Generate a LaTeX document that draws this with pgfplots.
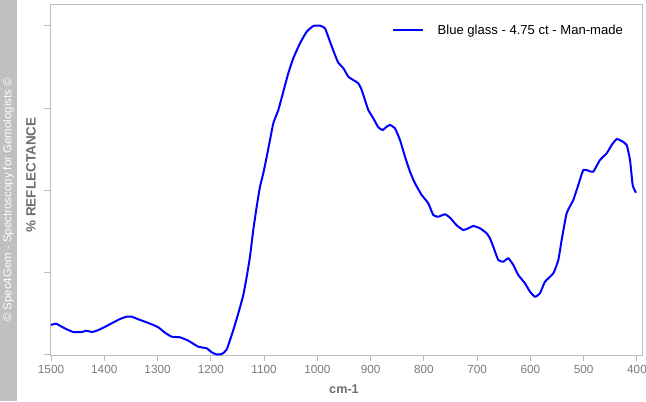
\documentclass[border=0pt]{standalone}
\usepackage{pgfplots}
\pgfplotsset{compat=1.18}
\usepackage{fontspec}
\setmainfont{Liberation Sans}
\definecolor{sidebar}{RGB}{192,192,192}
\definecolor{ticklab}{RGB}{120,120,128}
\definecolor{labgray}{RGB}{110,110,110}
\definecolor{axgray}{RGB}{190,190,190}
\begin{document}
\begin{tikzpicture}
\useasboundingbox (0pt,0pt) rectangle (484.5pt,300.75pt);
\fill[sidebar] (0pt,0pt) rectangle (12.75pt,300.75pt);
\node[rotate=90, text=white, font=\fontsize{8.6}{10}\selectfont, inner sep=0pt] at (6.4pt,150.75pt) {© Spec4Gem - Spectroscopy for Gemologists ©};
\node[rotate=90, text=labgray, font=\fontsize{10.1}{11}\selectfont\bfseries, inner sep=0pt] at (23.25pt,169.5pt) {\% REFLECTANCE};
\node[text=labgray, font=\fontsize{9.5}{10}\selectfont\bfseries, inner sep=0pt] at (258pt,9pt) {cm-1};
\begin{axis}[
  at={(37.5pt,34.5pt)}, anchor=south west,
  scale only axis, width=444pt, height=263.25pt,
  x dir=reverse, xmin=390.6, xmax=1501.9, ymin=0, ymax=351,
  axis line style={draw=axgray},
  tick style={draw=axgray, line width=0.75pt},
  tick align=outside, major tick length=4.5pt,
  xtick={400,500,...,1500}, ytick={1,83,165,247,330}, yticklabels={},
  xtick pos=bottom, ytick pos=left,
  /pgf/number format/assume math mode=true,
  /pgf/number format/1000 sep={},
  xticklabel style={text=ticklab, font=\fontsize{8.8}{10}\selectfont},
  legend style={draw=none, fill=none, at={(0.570,0.957)}, anchor=north west, font=\fontsize{9.8}{11}\selectfont, legend cell align=left},
  legend image code/.code={\draw[#1] (0pt,0pt) -- (23pt,0pt); \path (31pt,0pt);},
]
\addplot[blue, line width=1.5pt, smooth, tension=0.3] coordinates {
(1500,30)(1490.6,31.3)(1479.9,28.3)(1470.5,25.7)(1458.1,23)(1442.4,23)(1433.0,24.3)(1423.6,23)(1414.2,24.3)(1401.8,27.3)(1386.1,31.7)(1370.5,36)(1357.9,38.3)(1348.5,38.3)(1336.1,35.7)(1323.6,33.3)(1311.0,30.7)(1298.6,27.7)(1286.0,22.3)(1273.4,18.3)(1257.9,17.7)(1242.3,14.3)(1223.5,8.3)(1207.7,6.7)(1198.4,2.7)(1188.9,0.5)(1179.6,1.0)(1170.2,5.5)(1157.8,25)(1148.4,41.7)(1139.0,60)(1132.6,78.3)(1126.5,98.3)(1120.3,125)(1113.9,148.3)(1107.7,168.3)(1101.5,181.7)(1095.1,198.3)(1088.9,215)(1082.7,231.7)(1073.3,245)(1063.9,263.3)(1054.6,281.7)(1045.2,296.7)(1032.6,311.7)(1020.0,323.3)(1007.6,329)(995.1,329.3)(985.7,326.7)(976.3,313.3)(966.9,300)(960.7,292.3)(951.1,286.7)(941.9,278.3)(932.6,275)(923.2,271.7)(916.8,265)(910.6,255)(904.4,245)(895.0,236.7)(885.6,227.7)(877.4,225)(869.9,228.3)(863.7,230)(854.3,226.7)(844.9,215)(835.5,198.3)(826.1,183.3)(816.7,171.7)(804.2,160)(791.8,151.7)(782.4,140)(773.0,138.3)(760.4,140.7)(751.0,137.3)(738.5,129.7)(726.1,125)(716.7,126.7)(707.3,129)(694.7,126.7)(682.2,121.7)(676.0,116.7)(669.8,108.3)(660.4,95)(651.0,93.3)(641.6,96.7)(632.2,90)(622.8,80)(610.3,71.7)(600.9,63.3)(591.5,58.3)(582.1,61.7)(572.7,73.3)(557.1,81.7)(547.7,95)(541.4,115)(532.0,141.7)(519.6,155)(510.2,170)(500.8,185)(491.4,184.3)(482.1,183.3)(469.5,195)(456.9,201.7)(447.5,210)(438.1,216)(428.8,214)(419.4,210)(413.1,195)(408.1,170)(401.9,162.3)
};
\addlegendentry{Blue glass - 4.75 ct - Man-made}
\end{axis}
\end{tikzpicture}
\end{document}
